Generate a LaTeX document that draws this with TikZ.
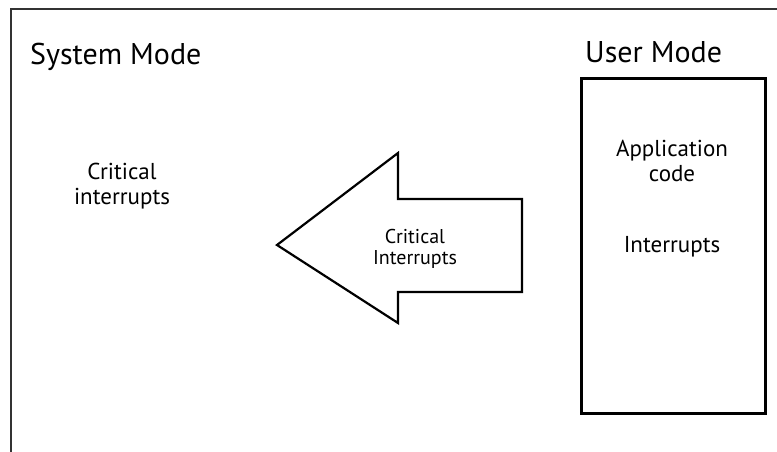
\documentclass[tikz,border=0pt]{standalone}
\usepackage{fontspec}
\setmainfont{PT Sans}
\usetikzlibrary{positioning}
\definecolor{modeframe}{HTML}{333333}
\tikzset{
  modelabel/.style={anchor=base west, inner sep=0pt, font=\fontsize{30}{34}\selectfont},
  codetext/.style={align=center, inner sep=0pt, font=\fontsize{23}{25}\selectfont},
  arrowtext/.style={align=center, inner sep=0pt, font=\fontsize{20}{21}\selectfont},
  userbox/.style={rectangle, draw=black, line width=3pt, minimum width=184pt, minimum height=334pt},
  bigarrow/.style={draw=black, line width=2.2pt, line join=miter},
}
\begin{document}
\begin{tikzpicture}[x=1pt, y=-1pt]
  \useasboundingbox (0,0) rectangle (777,452);
  % outer frame, open to the right and below
  \draw[modeframe, line width=2pt] (11,470) -- (11,9) -- (800,9);

  \node[modelabel] (sysmode) at (30,65) {System Mode};
  \node[modelabel] (usermode) at (585,63) {User Mode};

  \node[codetext] (critsys) at (122,186) {Critical\\interrupts};

  \node[userbox] (user) at (673,246) {};
  \node[codetext] (appcode) at (672,161) {Application\\code};
  \node[codetext, below=54pt of appcode.south] (userint) {Interrupts};

  % the big arrow
  \coordinate (tip) at (277,245);
  \coordinate (headtop) at (398,153);
  \coordinate (headbot) at (398,323);
  \draw[bigarrow] (tip) -- (headtop) -- (398,199) -- (522,199) -- (522,292)
    -- (398,292) -- (headbot) -- cycle;
  \node[arrowtext] (critarrow) at (415,249) {Critical\\Interrupts};
\end{tikzpicture}
\end{document}
